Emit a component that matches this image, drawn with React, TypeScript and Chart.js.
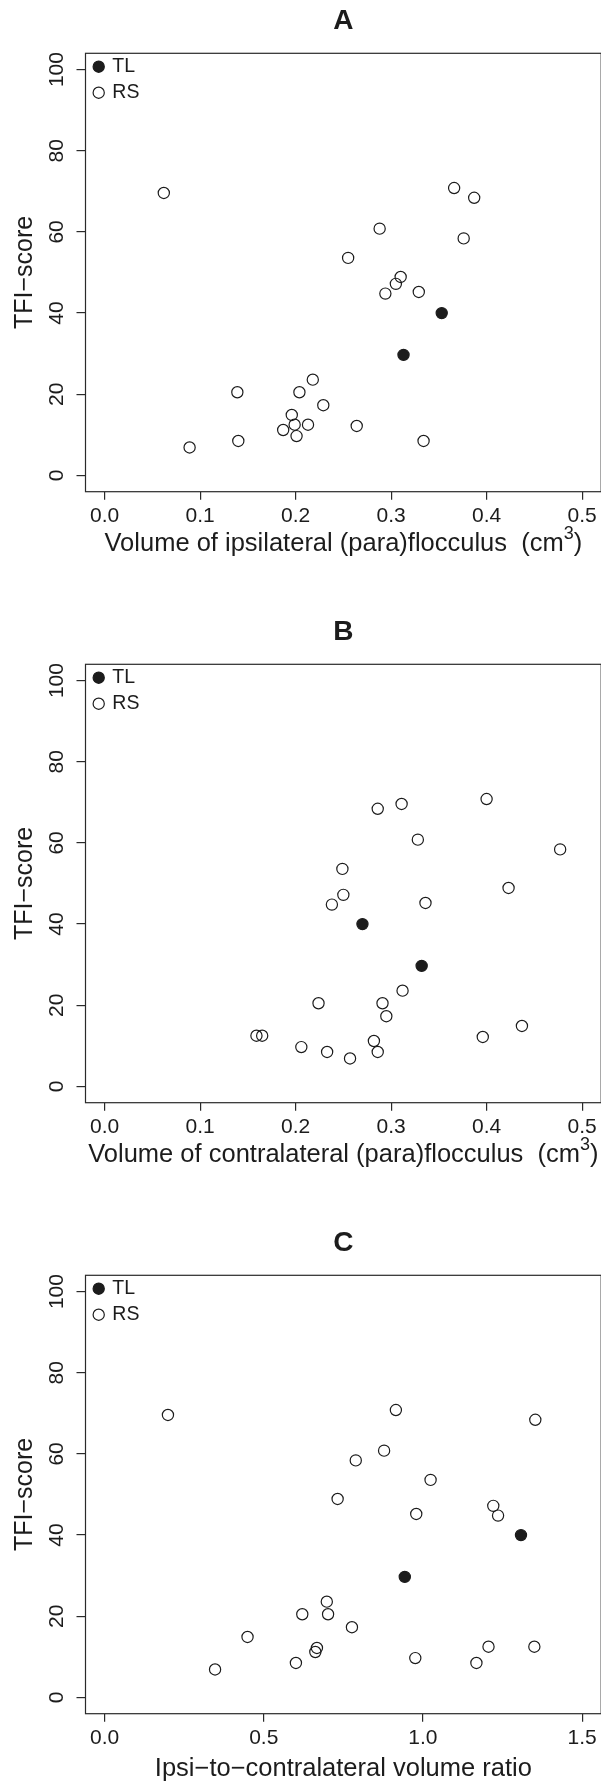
import React, { useEffect, useRef } from "react";
import { Chart, registerables } from "chart.js";

Chart.register(...registerables);

// ---------- data ----------
// TFI-scores of the RS group (same patients in all three panels)
const rsTFI = [69.6, 70.8, 68.4, 60.8, 58.4, 53.6, 48.9, 47.2, 44.8, 45.2, 23.6, 20.5, 20.5, 17.3, 14.9, 12.5, 12.5, 12.2, 11.2, 9.7, 8.5, 8.5, 6.9];
// Volume of ipsilateral (para)flocculus, cm^3
const rsIpsi = [0.062, 0.366, 0.387, 0.288, 0.376, 0.255, 0.310, 0.305, 0.294, 0.329, 0.218, 0.139, 0.204, 0.229, 0.196, 0.213, 0.199, 0.264, 0.187, 0.201, 0.140, 0.334, 0.089];
// Volume of contralateral (para)flocculus, cm^3
const rsContra = [0.311, 0.400, 0.286, 0.328, 0.477, 0.249, 0.423, 0.250, 0.238, 0.336, 0.312, 0.224, 0.291, 0.295, 0.437, 0.159, 0.165, 0.396, 0.282, 0.206, 0.233, 0.286, 0.257];
// Ipsi-to-contralateral volume ratio
const rsRatio = [0.199, 0.915, 1.353, 0.878, 0.789, 1.024, 0.732, 1.221, 1.236, 0.979, 0.698, 0.621, 0.702, 0.777, 0.449, 1.350, 1.206, 0.667, 0.662, 0.976, 0.601, 1.168, 0.347];

const tlTFI = [40.0, 29.7];
const tlIpsi = [0.353, 0.313];
const tlContra = [0.270, 0.332];
const tlRatio = [1.308, 0.943];

const yTicks = [0, 20, 40, 60, 80, 100];
const volTicks = [0, 0.1, 0.2, 0.3, 0.4, 0.5];
const ratioTicks = [0, 0.5, 1.0, 1.5];

const legendLabels = ["TL", "RS"];
const yTitle = "TFI\u2212score";

// ---------- styling ----------
const FONT = '"Liberation Sans", Arial, Helvetica, sans-serif';
const INK = "#1c1c1c";
const AXIS = "#2a2a2a";
const CANVAS_W = 620;
const PANEL_H = 611;
const PLOT_LEFT = 85.5;
const PLOT_TOP = 53.3;
const PLOT_BOTTOM = 491.7;
const PLOT_RIGHT = 601.2;
const TICK_FS = 21;
const LABEL_FS = 25.5;
const SUP_FS = 18;

type Panel = {
  letter: string;
  rsX: number[];
  tlX: number[];
  xMin: number;
  xMax: number;
  xTicks: number[];
  xLabel: string;
  xSup: string;
  xAfter: string;
  xLabelBaseline: number;
  top: number;
};

const panels: Panel[] = [
  {
    letter: "A",
    rsX: rsIpsi,
    tlX: tlIpsi,
    xMin: -0.02,
    xMax: 0.52,
    xTicks: volTicks,
    xLabel: "Volume of ipsilateral (para)flocculus  (cm",
    xSup: "3",
    xAfter: ")",
    xLabelBaseline: 551,
    top: 0,
  },
  {
    letter: "B",
    rsX: rsContra,
    tlX: tlContra,
    xMin: -0.02,
    xMax: 0.52,
    xTicks: volTicks,
    xLabel: "Volume of contralateral (para)flocculus  (cm",
    xSup: "3",
    xAfter: ")",
    xLabelBaseline: 551,
    top: 611,
  },
  {
    letter: "C",
    rsX: rsRatio,
    tlX: tlRatio,
    xMin: -0.06,
    xMax: 1.56,
    xTicks: ratioTicks,
    xLabel: "Ipsi\u2212to\u2212contralateral volume ratio",
    xSup: "",
    xAfter: "",
    xLabelBaseline: 554.4,
    top: 1222,
  },
];

function makeDecor(p: Panel) {
  return {
    id: "decor" + p.letter,
    beforeDatasetsDraw(chart: any) {
      const { ctx, chartArea: ca } = chart;
      ctx.save();
      ctx.strokeStyle = AXIS;
      ctx.lineWidth = 1.2;
      ctx.strokeRect(ca.left, ca.top, ca.right - ca.left, ca.bottom - ca.top);
      ctx.restore();
    },
    afterDraw(chart: any) {
      const { ctx, chartArea: ca } = chart;
      const cx = (ca.left + ca.right) / 2;
      const cy = (ca.top + ca.bottom) / 2;
      ctx.save();
      ctx.fillStyle = INK;

      // panel letter
      ctx.font = `bold 28px ${FONT}`;
      ctx.textAlign = "center";
      ctx.textBaseline = "alphabetic";
      ctx.fillText(p.letter, cx, 29.3);

      // y axis title
      ctx.save();
      ctx.translate(31.5, cy);
      ctx.rotate(-Math.PI / 2);
      ctx.font = `25px ${FONT}`;
      ctx.textAlign = "center";
      ctx.textBaseline = "alphabetic";
      ctx.fillText(yTitle, 0, 0);
      ctx.restore();

      // x axis title (with superscript)
      ctx.textAlign = "left";
      ctx.textBaseline = "alphabetic";
      ctx.font = `${LABEL_FS}px ${FONT}`;
      const wMain = ctx.measureText(p.xLabel).width;
      const wAfter = p.xAfter ? ctx.measureText(p.xAfter).width : 0;
      ctx.font = `${SUP_FS}px ${FONT}`;
      const wSup = p.xSup ? ctx.measureText(p.xSup).width : 0;
      const total = wMain + wSup + wAfter;
      const x0 = cx - total / 2;
      ctx.font = `${LABEL_FS}px ${FONT}`;
      ctx.fillText(p.xLabel, x0, p.xLabelBaseline);
      if (p.xSup) {
        ctx.font = `${SUP_FS}px ${FONT}`;
        ctx.fillText(p.xSup, x0 + wMain, p.xLabelBaseline - 12.5);
        ctx.font = `${LABEL_FS}px ${FONT}`;
        ctx.fillText(p.xAfter, x0 + wMain + wSup, p.xLabelBaseline);
      }

      // legend
      const lx = ca.left + 13.2;
      const ly1 = ca.top + 13.4;
      const ly2 = ca.top + 39.4;
      ctx.lineWidth = 1.2;
      ctx.strokeStyle = INK;
      ctx.beginPath();
      ctx.arc(lx, ly1, 5.6, 0, Math.PI * 2);
      ctx.fill();
      ctx.stroke();
      ctx.beginPath();
      ctx.arc(lx, ly2, 5.6, 0, Math.PI * 2);
      ctx.stroke();
      ctx.font = `19.5px ${FONT}`;
      ctx.textBaseline = "middle";
      ctx.textAlign = "left";
      ctx.fillText(legendLabels[0], ca.left + 26.8, ly1);
      ctx.fillText(legendLabels[1], ca.left + 26.8, ly2);
      ctx.restore();
    },
  };
}

function PanelChart({ p }: { p: Panel }) {
  const ref = useRef<HTMLCanvasElement | null>(null);
  useEffect(() => {
    if (!ref.current) return;
    const rsData = p.rsX.map((x, i) => ({ x, y: rsTFI[i] }));
    const tlData = p.tlX.map((x, i) => ({ x, y: tlTFI[i] }));
    const chart = new Chart(ref.current, {
      type: "scatter",
      data: {
        datasets: [
          {
            label: legendLabels[1],
            data: rsData,
            pointRadius: 5.6,
            pointBorderWidth: 1.2,
            pointBackgroundColor: "rgba(0,0,0,0)",
            pointBorderColor: INK,
            order: 2,
          },
          {
            label: legendLabels[0],
            data: tlData,
            pointRadius: 5.6,
            pointBorderWidth: 1.2,
            pointBackgroundColor: INK,
            pointBorderColor: INK,
            order: 1,
          },
        ],
      },
      options: {
        responsive: false,
        animation: false,
        devicePixelRatio: 1,
        events: [],
        layout: {
          padding: { top: PLOT_TOP, left: 0, bottom: 0, right: CANVAS_W - PLOT_RIGHT },
        },
        plugins: {
          legend: { display: false },
          tooltip: { enabled: false },
          title: { display: false },
        },
        scales: {
          x: {
            type: "linear",
            position: "bottom",
            min: p.xMin,
            max: p.xMax,
            afterBuildTicks: (axis: any) => {
              axis.ticks = p.xTicks.map((v) => ({ value: v }));
            },
            afterFit: (axis: any) => {
              axis.height = PANEL_H - PLOT_BOTTOM;
            },
            border: { display: false },
            grid: {
              display: true,
              drawOnChartArea: false,
              drawTicks: true,
              tickLength: 8,
              color: AXIS,
              lineWidth: 1.2,
            },
            ticks: {
              autoSkip: false,
              maxRotation: 0,
              minRotation: 0,
              padding: 6.5,
              color: INK,
              font: { family: FONT, size: TICK_FS, lineHeight: 1 },
              callback: (v: any) => Number(v).toFixed(1),
            },
            title: { display: false },
          },
          y: {
            type: "linear",
            position: "left",
            min: -4,
            max: 104,
            afterBuildTicks: (axis: any) => {
              axis.ticks = yTicks.map((v) => ({ value: v }));
            },
            afterFit: (axis: any) => {
              axis.width = PLOT_LEFT;
            },
            border: { display: false },
            grid: {
              display: true,
              drawOnChartArea: false,
              drawTicks: true,
              tickLength: 9,
              color: AXIS,
              lineWidth: 1.2,
            },
            ticks: {
              autoSkip: false,
              minRotation: 90,
              maxRotation: 90,
              crossAlign: "center",
              padding: 1.5,
              color: INK,
              font: { family: FONT, size: TICK_FS, lineHeight: 1 },
              callback: (v: any) => String(v),
            },
            title: { display: false },
          },
        },
      },
      plugins: [makeDecor(p)],
    } as any);
    return () => chart.destroy();
  }, [p]);

  return (
    <div style={{ position: "absolute", left: 0, top: p.top, width: CANVAS_W, height: PANEL_H }}>
      <canvas
        ref={ref}
        width={CANVAS_W}
        height={PANEL_H}
        style={{ width: CANVAS_W + "px", height: PANEL_H + "px", display: "block" }}
      />
    </div>
  );
}

export default function App() {
  return (
    <div
      style={{
        position: "absolute",
        left: 0,
        top: 0,
        width: 601,
        height: 1783,
        overflow: "hidden",
        background: "#ffffff",
      }}
    >
      {panels.map((p) => (
        <PanelChart key={p.letter} p={p} />
      ))}
    </div>
  );
}
